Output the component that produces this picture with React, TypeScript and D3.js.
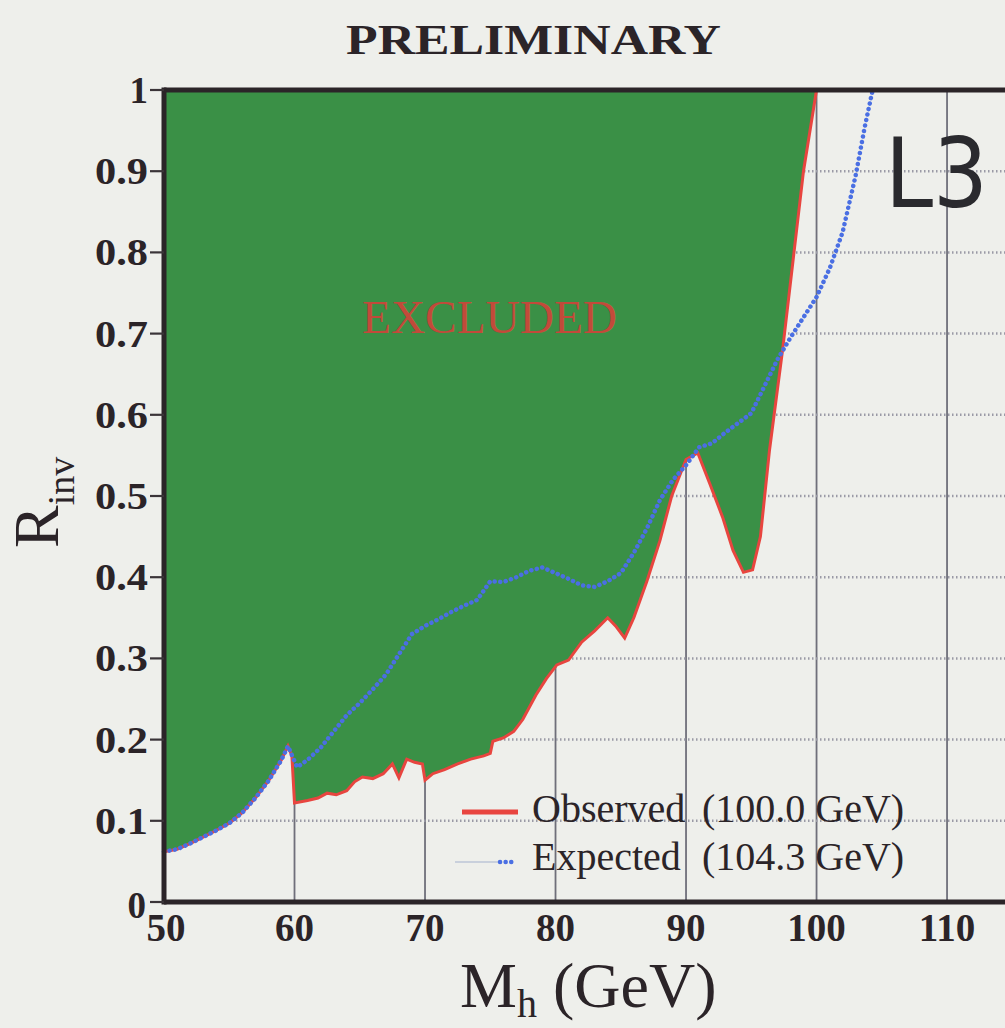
import React from 'react';
import * as d3 from 'd3';

// Observed limit (Mh in GeV, R_inv)
const obsMass = [50, 51, 52, 53, 54, 55, 56, 57, 58, 59, 59.5, 59.8, 60.0, 61.0, 61.8, 62.5, 63.2, 64.0, 64.6, 65.2, 66.0, 66.8, 67.5, 68.0, 68.6, 69.2, 69.8, 70.0, 70.6, 71.5, 72.5, 73.5, 74.5, 75.0, 75.2, 76.0, 76.8, 77.5, 78.5, 79.3, 80.1, 81.0, 82.0, 83.0, 84.0, 84.6, 85.3, 86.0, 87.0, 88.0, 88.9, 90.0, 90.9, 91.8, 92.8, 93.6, 94.4, 95.1, 95.7, 96.4, 97.4, 98.2, 99.0, 100.0];
const obsR = [0.062, 0.065, 0.072, 0.080, 0.088, 0.097, 0.110, 0.128, 0.149, 0.175, 0.192, 0.180, 0.122, 0.125, 0.128, 0.134, 0.132, 0.137, 0.148, 0.154, 0.152, 0.158, 0.170, 0.153, 0.176, 0.172, 0.170, 0.150, 0.158, 0.163, 0.170, 0.176, 0.180, 0.183, 0.198, 0.202, 0.210, 0.225, 0.255, 0.275, 0.292, 0.298, 0.320, 0.334, 0.350, 0.340, 0.325, 0.350, 0.395, 0.445, 0.500, 0.545, 0.553, 0.516, 0.474, 0.433, 0.406, 0.409, 0.450, 0.557, 0.680, 0.790, 0.900, 1.0];

// Expected limit
const expMass = [50, 51, 52, 53, 54, 55, 56, 57, 58, 59, 59.5, 60.2, 61, 62, 63, 64, 65, 66, 67, 68, 69, 70, 71, 72, 73, 74, 75, 76, 77, 78, 79, 80, 81, 82, 83, 84, 85, 86, 87, 88, 89, 90, 91, 92, 93, 94, 95, 96, 97, 98, 99, 100, 101, 102, 103, 103.7, 104.3];
const expR = [0.062, 0.065, 0.072, 0.080, 0.088, 0.097, 0.110, 0.128, 0.149, 0.175, 0.192, 0.166, 0.175, 0.190, 0.210, 0.230, 0.245, 0.262, 0.280, 0.305, 0.330, 0.340, 0.348, 0.357, 0.365, 0.372, 0.395, 0.394, 0.400, 0.408, 0.412, 0.405, 0.398, 0.390, 0.388, 0.395, 0.405, 0.430, 0.460, 0.495, 0.520, 0.538, 0.560, 0.565, 0.578, 0.590, 0.602, 0.635, 0.668, 0.695, 0.720, 0.745, 0.780, 0.825, 0.895, 0.955, 1.0];

const xTicks = [50, 60, 70, 80, 90, 100, 110];
const yTicks = [0, 0.1, 0.2, 0.3, 0.4, 0.5, 0.6, 0.7, 0.8, 0.9, 1];
const legendLabels = ['Observed', 'Expected'];
const legendValues = ['(100.0 GeV)', '(104.3 GeV)'];

const W = 1005;
const H = 1028;
const serif = '"Liberation Serif", "Times New Roman", serif';

export default function App() {
  const x = d3.scaleLinear().domain([50, 115]).range([164, 1012.3]);
  const y = d3.scaleLinear().domain([0, 1]).range([902, 90]);

  const obs = obsMass.map((m, i) => [m, obsR[i]] as [number, number]);
  const exp = expMass.map((m, i) => [m, expR[i]] as [number, number]);

  const line = d3.line<[number, number]>().x(d => x(d[0])).y(d => y(d[1]));
  const area = d3.area<[number, number]>().x(d => x(d[0])).y0(y(1)).y1(d => y(d[1]));

  const fmt = (v: number) => (v === 0 || v === 1 ? String(v) : v.toFixed(1));

  return (
    <div style={{ position: 'absolute', left: 0, top: 0 }}>
      <svg width={W} height={H} style={{ display: 'block' }}>
        <rect width={W} height={H} fill="#eeefeb" />

        {/* grid */}
        {xTicks.filter(t => t > 50).map(t => (
          <line key={'gx' + t} x1={x(t)} x2={x(t)} y1={y(0)} y2={y(1)} stroke="#6f6f7a" strokeWidth={1.8} />
        ))}
        {yTicks.filter(t => t > 0 && t < 1).map(t => (
          <line key={'gy' + t} x1={x(50)} x2={W} y1={y(t)} y2={y(t)} stroke="#9a9aa6" strokeWidth={2.5} strokeDasharray="1.5,2.5" />
        ))}

        {/* excluded region */}
        <path d={area(obs) || ''} fill="#3a9046" />
        <path d={line(obs) || ''} fill="none" stroke="#e8453f" strokeWidth={3} />
        <path d={line(exp) || ''} fill="none" stroke="#4a6fe3" strokeWidth={4.5} strokeDasharray="0.1,5.5" strokeLinecap="round" />

        {/* frame */}
        <line x1={x(50)} x2={W} y1={y(1)} y2={y(1)} stroke="#2b2428" strokeWidth={5} />
        <line x1={x(50)} x2={W} y1={y(0)} y2={y(0)} stroke="#2b2428" strokeWidth={5} />
        <line x1={x(50)} x2={x(50)} y1={y(0) + 2.5} y2={y(1) - 2.5} stroke="#2b2428" strokeWidth={5} />

        {/* y ticks */}
        {yTicks.map(t => (
          <g key={'yt' + t}>
            <line x1={x(50) - 14} x2={x(50)} y1={y(t)} y2={y(t)} stroke="#3a3438" strokeWidth={2.2} />
            <text
              x={t === 0 ? 146 : 148}
              y={y(t) + (t === 0 ? 3 : 0)}
              dy="0.35em"
              textAnchor="end"
              fontFamily={serif}
              fontWeight="bold"
              fontSize={37}
              fill="#2b2428"
              textLength={t === 0 || t === 1 ? undefined : 53}
              lengthAdjust="spacingAndGlyphs"
            >
              {fmt(t)}
            </text>
          </g>
        ))}

        {/* x tick labels */}
        {xTicks.map(t => (
          <text key={'xt' + t} x={x(t) + (t === 50 ? 2 : 0)} y={941} textAnchor="middle" fontFamily={serif} fontWeight="bold" fontSize={39} fill="#2b2428">
            {t}
          </text>
        ))}

        {/* axis titles */}
        <text x={460} y={1007} fontFamily={serif} fontSize={64} fill="#2b2428">
          <tspan>M</tspan>
          <tspan fontSize={40} dy={10}>h</tspan>
          <tspan x={553} dy={-10}>(GeV)</tspan>
        </text>
        <text transform="translate(58,548) rotate(-90)" fontFamily={serif} fontSize={64} fill="#2b2428">
          <tspan>R</tspan>
          <tspan fontSize={38} dy={16}>inv</tspan>
        </text>

        {/* title and labels */}
        <text x={346} y={54} fontFamily={serif} fontWeight="bold" fontSize={42} fill="#2b2428" textLength={375} lengthAdjust="spacingAndGlyphs">
          PRELIMINARY
        </text>
        <text x={362} y={333} fontFamily={serif} fontSize={46} fill="#c24a3a" textLength={255} lengthAdjust="spacingAndGlyphs">
          EXCLUDED
        </text>
        <text x={885} y={207} fontFamily='"DejaVu Sans", sans-serif' fontSize={96} fill="#2a2a2e" textLength={103} lengthAdjust="spacingAndGlyphs">
          L3
        </text>

        {/* legend */}
        <line x1={462} x2={518} y1={812} y2={812} stroke="#e8453f" strokeWidth={5} />
        <line x1={455} x2={500} y1={862} y2={862} stroke="#c9d0dc" strokeWidth={2} />
        <line x1={500} x2={516} y1={862} y2={862} stroke="#4a6fe3" strokeWidth={4.5} strokeDasharray="0.1,5.5" strokeLinecap="round" />
        {legendLabels.map((l, i) => (
          <g key={l}>
            <text x={532} y={822 + i * 48} fontFamily={serif} fontSize={40} fill="#2b2428">{l}</text>
            <text x={702} y={822 + i * 48} fontFamily={serif} fontSize={40} fill="#2b2428">{legendValues[i]}</text>
          </g>
        ))}
      </svg>
    </div>
  );
}
